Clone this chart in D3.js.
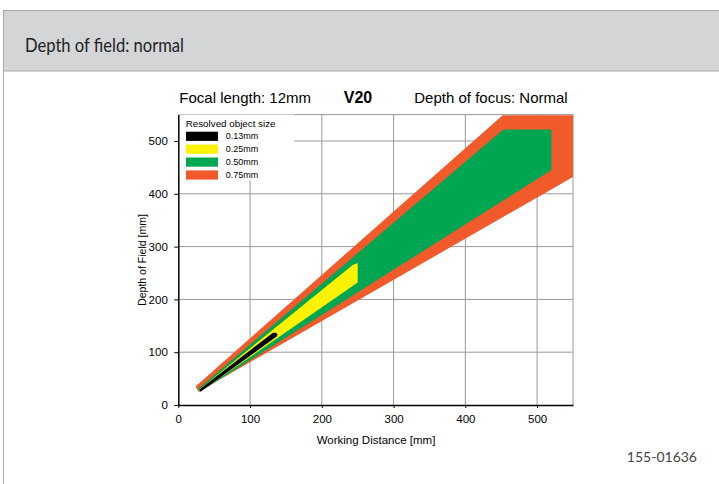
<!DOCTYPE html>
<html>
<head>
<meta charset="utf-8">
<script src="https://cdn.jsdelivr.net/npm/d3@7"></script>
<style>
    body { margin: 0; background: #fff; }
    svg { display: block; font-family: "Liberation Sans", Arial, sans-serif; }
</style>
</head>
<body>
<svg id="chart" width="719" height="484"></svg>
<script>
const xTicks = [0, 100, 200, 300, 400, 500];
const yTicks = [0, 100, 200, 300, 400, 500];

const sizeLabels = ["0.13mm", "0.25mm", "0.50mm", "0.75mm"];
const sizeColors = ["#000000", "#fff200", "#00a651", "#f15a2b"];

// [working distance, depth of field] outlines
const zone075 = [[24, 35], [452, 549], [550, 549], [550, 432], [28, 25]];
const zone050 = [[27, 30], [453, 522], [520, 522], [520, 445], [29, 24]];
const zone025 = [[28, 28], [243, 265], [250, 269], [250, 232], [30, 25]];
const zone013 = [[29, 29], [132, 137], [136, 137], [138.5, 134], [137, 129.5], [31, 25]];

const svg = d3.select("#chart");

// card + header
svg.append("rect")
    .attr("x", 3.5).attr("y", 10.5)
    .attr("width", 730).attr("height", 500)
    .attr("fill", "#fff")
    .attr("stroke", "#a9a9a9");

svg.append("rect")
    .attr("x", 3.5).attr("y", 10.5)
    .attr("width", 730).attr("height", 60.5)
    .attr("fill", "#d4d5d7")
    .attr("stroke", "#a9a9a9");

// narrow humanist face in the original, squeeze Lato to the same width
svg.append("text")
    .attr("x", 25).attr("y", 52)
    .attr("font-family", "Lato, sans-serif")
    .attr("font-size", 20)
    .attr("fill", "#222")
    .attr("textLength", 159)
    .attr("lengthAdjust", "spacingAndGlyphs")
    .text("Depth of field: normal");

const x = d3.scaleLinear().domain([0, 550]).range([178.3, 573]);
const y = d3.scaleLinear().domain([0, 550]).range([405, 114.6]);

const plot = svg.append("g");

plot.append("clipPath")
    .attr("id", "plot-clip")
    .append("rect")
    .attr("x", x(0)).attr("y", y(550))
    .attr("width", x(550) - x(0)).attr("height", y(0) - y(550));

// grid
plot.selectAll(".vgrid")
    .data(xTicks.slice(1))
    .enter()
    .append("line")
    .attr("x1", d => x(d)).attr("x2", d => x(d))
    .attr("y1", y(0)).attr("y2", y(550))
    .attr("stroke", "#999").attr("stroke-width", 1);

plot.selectAll(".hgrid")
    .data(yTicks.slice(1))
    .enter()
    .append("line")
    .attr("x1", x(0)).attr("x2", x(550))
    .attr("y1", d => y(d)).attr("y2", d => y(d))
    .attr("stroke", "#999").attr("stroke-width", 1);

// frame top / right
plot.append("path")
    .attr("d", `M${x(0)},${y(550)}H${x(550)}V${y(0)}`)
    .attr("fill", "none")
    .attr("stroke", "#999");

// zones, widest first
const line = d3.line().x(d => x(d[0])).y(d => y(d[1]));
const zones = [zone075, zone050, zone025, zone013];
const zoneColors = [sizeColors[3], sizeColors[2], sizeColors[1], sizeColors[0]];

plot.append("g")
    .attr("clip-path", "url(#plot-clip)")
    .selectAll("path")
    .data(zones)
    .enter()
    .append("path")
    .attr("d", d => line(d) + "Z")
    .attr("fill", (d, i) => zoneColors[i]);

// legend
const legend = plot.append("g");
legend.append("rect")
    .attr("x", x(0)).attr("y", y(550))
    .attr("width", 116).attr("height", 66)
    .attr("fill", "#fff");

legend.append("text")
    .attr("x", 185.7).attr("y", 127.3)
    .attr("font-size", 9.8)
    .text("Resolved object size");

const rows = legend.selectAll(".row")
    .data(sizeLabels)
    .enter()
    .append("g")
    .attr("transform", (d, i) => `translate(186, ${131.7 + i * 12.9})`);

rows.append("rect")
    .attr("width", 32).attr("height", 9.2)
    .attr("fill", (d, i) => sizeColors[i]);

rows.append("text")
    .attr("x", 39.7).attr("y", 4.6)
    .attr("dy", "0.35em")
    .attr("font-size", 9)
    .text(d => d);

// axes
const xAxis = plot.append("g")
    .attr("transform", `translate(0, ${y(0)})`)
    .call(d3.axisBottom(x).tickValues(xTicks).tickSize(3).tickSizeOuter(0).tickPadding(7));

const yAxis = plot.append("g")
    .attr("transform", `translate(${x(0)}, 0)`)
    .call(d3.axisLeft(y).tickValues(yTicks).tickSize(4).tickSizeOuter(0).tickPadding(6.5));

[xAxis, yAxis].forEach(a => {
    a.select(".domain").attr("stroke", "#000").attr("stroke-width", 1.5);
    a.selectAll(".tick line").attr("stroke", "#000");
    a.selectAll(".tick text")
        .attr("font-family", "Liberation Sans, Arial, sans-serif")
        .attr("font-size", 11.5)
        .attr("fill", "#000");
});

svg.append("text")
    .attr("x", 376).attr("y", 444.3)
    .attr("text-anchor", "middle")
    .attr("font-size", 11.5)
    .text("Working Distance [mm]");

svg.append("text")
    .attr("transform", "translate(146, 260) rotate(-90)")
    .attr("text-anchor", "middle")
    .attr("font-size", 10.5)
    .text("Depth of Field [mm]");

// chart heading
svg.append("text")
    .attr("x", 179.3).attr("y", 103.3)
    .attr("font-size", 15)
    .text("Focal length: 12mm");

svg.append("text")
    .attr("x", 358).attr("y", 103.3)
    .attr("text-anchor", "middle")
    .attr("font-size", 16)
    .attr("font-weight", "bold")
    .text("V20");

svg.append("text")
    .attr("x", 567.7).attr("y", 103.3)
    .attr("text-anchor", "end")
    .attr("font-size", 15)
    .text("Depth of focus: Normal");

svg.append("text")
    .attr("x", 697).attr("y", 462.3)
    .attr("text-anchor", "end")
    .attr("font-family", "Lato, sans-serif")
    .attr("font-size", 14)
    .attr("fill", "#444")
    .text("155-01636");
</script>
</body>
</html>
